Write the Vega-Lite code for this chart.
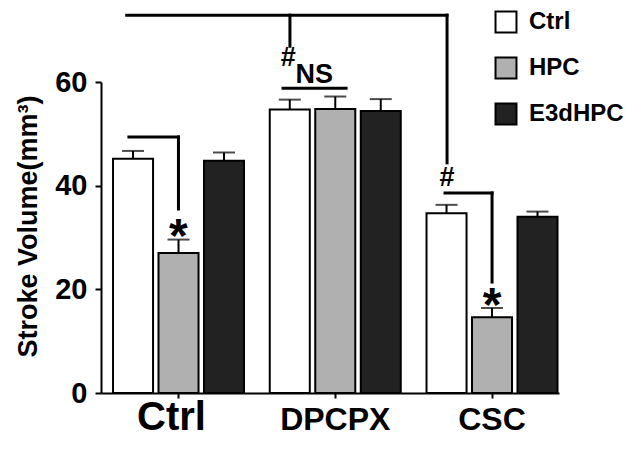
{
  "$schema": "https://vega.github.io/schema/vega-lite/v6.json",
  "width": 458,
  "height": 311,
  "autosize": "none",
  "padding": {"left": 101, "top": 82, "right": 74, "bottom": 62},
  "background": "white",
  "config": {
    "view": {"stroke": null},
    "font": "Liberation Sans",
    "axis": {"grid": false, "domainColor": "black", "domainWidth": 2, "tickColor": "black", "tickWidth": 2, "labelColor": "black", "titleColor": "black", "labelFont": "Liberation Sans", "titleFont": "Liberation Sans"}
  },
  "datasets": {
    "bars": [
      {"group": "Ctrl", "treat": "Ctrl", "value": 45.2, "upper": 46.7},
      {"group": "Ctrl", "treat": "HPC", "value": 27.0, "upper": 29.6},
      {"group": "Ctrl", "treat": "E3dHPC", "value": 44.8, "upper": 46.4},
      {"group": "DPCPX", "treat": "Ctrl", "value": 54.7, "upper": 56.6},
      {"group": "DPCPX", "treat": "HPC", "value": 54.8, "upper": 57.2},
      {"group": "DPCPX", "treat": "E3dHPC", "value": 54.4, "upper": 56.7},
      {"group": "CSC", "treat": "Ctrl", "value": 34.7, "upper": 36.3},
      {"group": "CSC", "treat": "HPC", "value": 14.6, "upper": 16.4},
      {"group": "CSC", "treat": "E3dHPC", "value": 34.0, "upper": 35.0}
    ],
    "lines": [
      {"x1": -0.33, "x2": 1.713, "y1": 72.9, "y2": 72.9},
      {"x1": 0.711, "x2": 0.711, "y1": 72.9, "y2": 66.9},
      {"x1": 1.713, "x2": 1.713, "y1": 72.9, "y2": 44.4},
      {"x1": 0.667, "x2": 1.069, "y1": 58.8, "y2": 58.8},
      {"x1": -0.316, "x2": 0, "y1": 49.4, "y2": 49.4},
      {"x1": 0, "x2": 0, "y1": 49.4, "y2": 35.5},
      {"x1": 1.70, "x2": 2.0, "y1": 38.6, "y2": 38.6},
      {"x1": 2.0, "x2": 2.0, "y1": 38.6, "y2": 21.4}
    ],
    "marks": [
      {"u": 0.70, "y": 64.6, "label": "#"},
      {"u": 0.866, "y": 61.4, "label": "NS"},
      {"u": 1.713, "y": 41.4, "label": "#"}
    ],
    "stars": [
      {"u": 0, "y": 30.0, "label": "*"},
      {"u": 2, "y": 16.5, "label": "*"}
    ]
  },
  "layer": [
    {
      "encoding": {
        "x": {
          "field": "group", "type": "nominal", "sort": ["Ctrl", "DPCPX", "CSC"],
          "scale": {"paddingInner": 0.1643, "paddingOuter": 0.0431, "align": 0.89},
          "axis": {
            "title": null, "labelAngle": 0, "tickSize": 5,
            "labelFontWeight": "bold",
            "labelFontSize": {"condition": {"test": "datum.value == 'Ctrl'", "value": 40}, "value": 32},
            "labelOffset": {"condition": {"test": "datum.value == 'Ctrl'", "value": -7}, "value": 0},
            "labelBaseline": "alphabetic", "labelPadding": 31
          }
        },
        "xOffset": {"field": "treat", "type": "nominal", "sort": ["Ctrl", "HPC", "E3dHPC"], "scale": {"paddingInner": 0.12, "paddingOuter": 0}}
      },
      "layer": [
        {
          "data": {"name": "bars"},
          "mark": {"type": "bar", "stroke": "black", "strokeWidth": 2},
          "encoding": {
            "y": {"field": "value", "type": "quantitative", "scale": {"domain": [0, 60], "nice": false},
              "axis": {"title": "Stroke Volume(mm³)", "values": [0, 20, 40, 60], "tickSize": 6, "labelFontSize": 29, "labelFontWeight": "bold", "labelPadding": 8, "titleFontSize": 27, "titleFontWeight": "bold", "titlePadding": 12, "titleY": 144}},
            "fill": {
              "field": "treat", "type": "nominal",
              "scale": {"domain": ["Ctrl", "HPC", "E3dHPC"], "range": ["#ffffff", "#b0b0b0", "#222222"]},
              "legend": {
                "title": null, "orient": "none", "legendX": 393, "legendY": -72,
                "symbolType": "square", "symbolSize": 440, "symbolStrokeColor": "black", "symbolStrokeWidth": 2,
                "labelFontSize": 24, "labelFontWeight": "bold", "labelColor": "black", "labelFont": "Liberation Sans",
                "labelOffset": 11, "rowPadding": 16
              }
            }
          }
        },
        {
          "data": {"name": "bars"},
          "mark": {"type": "rule", "color": "black", "strokeWidth": 2},
          "encoding": {
            "y": {"field": "value", "type": "quantitative",
              "axis": {"title": "Stroke Volume(mm³)", "values": [0, 20, 40, 60], "tickSize": 6, "labelFontSize": 29, "labelFontWeight": "bold", "labelPadding": 8, "titleFontSize": 27, "titleFontWeight": "bold", "titlePadding": 12, "titleY": 144}},
            "y2": {"field": "upper"}
          }
        },
        {
          "data": {"name": "bars"},
          "mark": {"type": "tick", "color": "black", "size": 22, "thickness": 2, "orient": "horizontal"},
          "encoding": {
            "y": {"field": "upper", "type": "quantitative",
              "axis": {"title": "Stroke Volume(mm³)", "values": [0, 20, 40, 60], "tickSize": 6, "labelFontSize": 29, "labelFontWeight": "bold", "labelPadding": 8, "titleFontSize": 27, "titleFontWeight": "bold", "titlePadding": 12, "titleY": 144}}
          }
        }
      ]
    },
    {
      "layer": [
        {
          "data": {"name": "lines"},
          "mark": {"type": "rule", "color": "black", "strokeWidth": 3, "strokeCap": "square", "clip": false},
          "encoding": {
            "x": {"field": "x1", "type": "quantitative", "scale": {"domain": [-0.494, 2.427], "nice": false, "zero": false}, "axis": null},
            "x2": {"field": "x2"},
            "y": {"field": "y1", "type": "quantitative",
              "axis": {"title": "Stroke Volume(mm³)", "values": [0, 20, 40, 60], "tickSize": 6, "labelFontSize": 29, "labelFontWeight": "bold", "labelPadding": 8, "titleFontSize": 27, "titleFontWeight": "bold", "titlePadding": 12, "titleY": 144}},
            "y2": {"field": "y2"}
          }
        },
        {
          "data": {"name": "marks"},
          "mark": {"type": "text", "fontSize": 27, "fontWeight": "bold", "color": "black", "baseline": "middle", "font": "Liberation Sans"},
          "encoding": {
            "x": {"field": "u", "type": "quantitative", "axis": null},
            "y": {"field": "y", "type": "quantitative",
              "axis": {"title": "Stroke Volume(mm³)", "values": [0, 20, 40, 60], "tickSize": 6, "labelFontSize": 29, "labelFontWeight": "bold", "labelPadding": 8, "titleFontSize": 27, "titleFontWeight": "bold", "titlePadding": 12, "titleY": 144}},
            "text": {"field": "label"}
          }
        },
        {
          "data": {"name": "stars"},
          "mark": {"type": "text", "fontSize": 48, "fontWeight": "bold", "color": "black", "baseline": "middle", "font": "Liberation Sans"},
          "encoding": {
            "x": {"field": "u", "type": "quantitative", "axis": null},
            "y": {"field": "y", "type": "quantitative",
              "axis": {"title": "Stroke Volume(mm³)", "values": [0, 20, 40, 60], "tickSize": 6, "labelFontSize": 29, "labelFontWeight": "bold", "labelPadding": 8, "titleFontSize": 27, "titleFontWeight": "bold", "titlePadding": 12, "titleY": 144}},
            "text": {"field": "label"}
          }
        }
      ]
    }
  ],
  "resolve": {"scale": {"x": "independent"}}
}
